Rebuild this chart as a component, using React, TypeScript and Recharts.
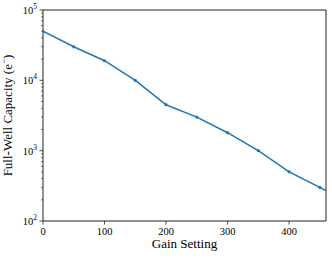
import React from 'react';
import { LineChart, Line, XAxis, YAxis, ReferenceLine, Label } from 'recharts';

const gainSettings = [0, 50, 100, 150, 200, 250, 300, 350, 400, 450, 500];
const fullWellCapacity = [50000, 30000, 19000, 10000, 4500, 3000, 1800, 1000, 500, 300, 180];
const xTicks = [0, 100, 200, 300, 400];
const yMajorTicks = [100, 1000, 10000, 100000];
const yMinorTicks = [200, 300, 400, 500, 600, 700, 800, 900, 2000, 3000, 4000, 5000, 6000, 7000, 8000, 9000, 20000, 30000, 40000, 50000, 60000, 70000, 80000, 90000];

const data = gainSettings.map((g, i) => ({ gain: g, capacity: fullWellCapacity[i] }));
const yTicks = [...yMajorTicks, ...yMinorTicks].sort((a, b) => a - b);

const FONT = 'Liberation Serif, DejaVu Serif, serif';
const AXIS = '#222';
const LINE = '#1f77b4';

function YTick(props: any) {
  const { x, y, payload } = props;
  const v = payload.value;
  const exp = Math.round(Math.log10(v));
  const major = yMajorTicks.includes(v);
  return (
    <g>
      <line x1={x} x2={x - (major ? 3.5 : 2)} y1={y} y2={y} stroke={AXIS} strokeWidth={major ? 0.8 : 0.6} />
      {major && (
        <text x={x - 6} y={y} dy={4} textAnchor="end" style={{ fontFamily: FONT, fontSize: 10.5 }} fill="#000">
          10<tspan dy={-5} style={{ fontSize: 7.5 }}>{exp}</tspan>
        </text>
      )}
    </g>
  );
}

function XTick(props: any) {
  const { x, y, payload } = props;
  return (
    <g>
      <line x1={x} x2={x} y1={y} y2={y + 3.5} stroke={AXIS} strokeWidth={0.8} />
      <text x={x} y={y + 13.5} textAnchor="middle" style={{ fontFamily: FONT, fontSize: 10.5 }} fill="#000">
        {payload.value}
      </text>
    </g>
  );
}

function YLabel(props: any) {
  const vb = props.viewBox;
  const cx = vb.x + 12;
  const cy = vb.y + vb.height / 2;
  return (
    <text x={cx} y={cy} transform={`rotate(-90 ${cx} ${cy})`} textAnchor="middle" style={{ fontFamily: FONT, fontSize: 13 }} fill="#000">
      Full-Well Capacity (e<tspan dy={-5} style={{ fontSize: 9 }}>−</tspan><tspan dy={5}>)</tspan>
    </text>
  );
}

function XLabel(props: any) {
  const vb = props.viewBox;
  const cx = vb.x + vb.width / 2;
  const cy = vb.y + 27;
  return (
    <text x={cx} y={cy} textAnchor="middle" style={{ fontFamily: FONT, fontSize: 13 }} fill="#000">
      Gain Setting
    </text>
  );
}

export default function App() {
  return (
    <div style={{ position: 'absolute', left: 0, top: 0, background: '#fff' }}>
      <LineChart width={332} height={258} data={data} margin={{ top: 10, right: 6, bottom: 0, left: 0 }}>
        <XAxis
          dataKey="gain"
          type="number"
          domain={[0, 460]}
          allowDataOverflow
          ticks={xTicks}
          interval={0}
          tickLine={false}
          tickSize={0}
          tickMargin={0}
          tick={<XTick />}
          axisLine={{ stroke: AXIS, strokeWidth: 1 }}
          height={37}
        >
          <Label content={<XLabel />} />
        </XAxis>
        <YAxis
          dataKey="capacity"
          type="number"
          scale="log"
          domain={[100, 100000]}
          allowDataOverflow
          ticks={yTicks}
          interval={0}
          tickLine={false}
          tickSize={0}
          tickMargin={0}
          tick={<YTick />}
          axisLine={{ stroke: AXIS, strokeWidth: 1 }}
          width={43}
        >
          <Label content={<YLabel />} />
        </YAxis>
        <ReferenceLine y={100000} stroke={AXIS} strokeWidth={1} />
        <ReferenceLine x={460} stroke={AXIS} strokeWidth={1} />
        <Line
          type="linear"
          dataKey="capacity"
          stroke={LINE}
          strokeWidth={1.5}
          dot={{ r: 1.6, fill: LINE, stroke: LINE, strokeWidth: 0 }}
          activeDot={false}
          isAnimationActive={false}
        />
      </LineChart>
    </div>
  );
}
